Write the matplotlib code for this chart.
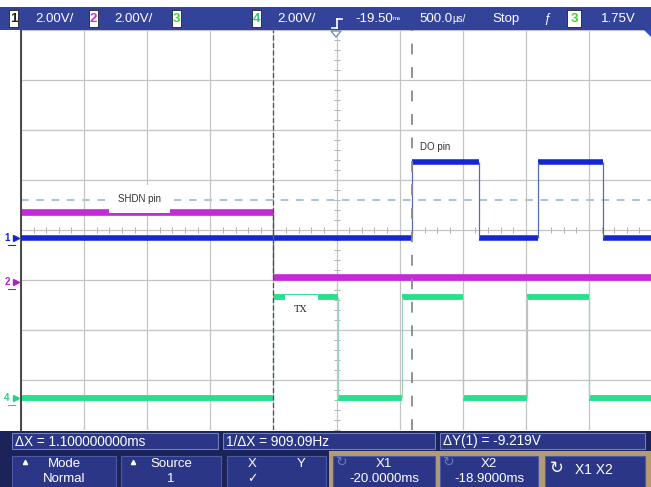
import numpy as np
import matplotlib
matplotlib.use("Agg")
import matplotlib.pyplot as plt
from matplotlib.patches import Rectangle, Polygon

plt.rcParams['font.family'] = ['Liberation Sans', 'DejaVu Sans']

# scope settings
volts_per_div = 2.0
time_left, time_right = -22.0, -17.0      # ms, 500 us/div
cursor_x1, cursor_x2 = -20.0, -18.9       # ms
trig_level_div = 0.6

# channel 1 (blue) - DO pin
ch1_edges = [-22.0, -18.90, -18.37, -17.90, -17.39, -17.0]
ch1_volts = [0.0, 3.04, 0.0, 3.04, 0.0]
ch1_offset = -0.16

# channel 2 (magenta) - SHDN pin
ch2_edges = [-22.0, -20.0, -17.0]
ch2_volts = [2.8, 0.2]
ch2_offset = -1.04

# channel 4 (green) - TX
ch4_edges = [-22.0, -20.0, -19.49, -18.98, -18.50, -17.99, -17.50, -17.0]
ch4_volts = [0.0, 4.04, 0.0, 4.04, 0.0, 4.04, 0.0]
ch4_offset = -3.36

W, H = 651, 487
fig = plt.figure(figsize=(W / 100, H / 100), dpi=100)
fig.patch.set_facecolor('white')

# graticule area in pixels: x 21..652, y 30..430
ax = fig.add_axes([21 / W, (H - 430) / H, 631 / W, 400 / H])
ax.set_xlim(time_left, time_right)
ax.set_ylim(-4, 4)
ax.set_xticks(np.arange(time_left, time_right + 0.01, 0.5))
ax.set_yticks(np.arange(-4, 5, 1))
ax.grid(True, color='#c4c4c4', lw=0.9, zorder=0)
ax.tick_params(length=0, labelbottom=False, labelleft=False)
for s in ['top', 'right', 'bottom']:
    ax.spines[s].set_visible(False)
ax.spines['left'].set_color('#3a3a3a')
ax.spines['left'].set_linewidth(1.3)

# minor ticks on centre lines
mx = np.arange(time_left, time_right, 0.1)
my = np.arange(-4, 4, 0.2)
ax.plot(mx, np.zeros_like(mx), ls='none', marker='|', ms=4, mew=0.7, color='#b0b0b0', zorder=1)
ax.plot(np.full_like(my, -19.5), my, ls='none', marker='_', ms=4, mew=0.7, color='#b0b0b0', zorder=1)

# trigger level
ax.axhline(trig_level_div, color='#8fb4c8', lw=1.1, dashes=(5, 5), zorder=1)


def draw_channel(edges, volts, offset, color, lw, edge_color):
    y = offset + np.array(volts) / volts_per_div
    ax.hlines(y, edges[:-1], edges[1:], colors=color, lw=lw, zorder=2)
    ax.vlines(edges[1:-1], y[:-1], y[1:], colors=edge_color, lw=0.9, zorder=2)


draw_channel(ch1_edges, ch1_volts, ch1_offset, '#1428d2', 4.0, '#5a68b8')
draw_channel(ch2_edges, ch2_volts, ch2_offset, '#c42ad8', 4.8, '#666666')
draw_channel(ch4_edges, ch4_volts, ch4_offset, '#26e08c', 4.2, '#9cd2bc')

# cursors
ax.axvline(cursor_x1, color='#505050', lw=0.9, dashes=(4, 2), zorder=3)
ax.axvline(cursor_x2, color='#8a8a8a', lw=1.3, dashes=(6, 7), zorder=3)

# trace labels
ax.text(-21.06, 0.62, 'SHDN pin', fontsize=7, color='#333333', ha='center', va='center',
        bbox=dict(boxstyle='square,pad=0.95', fc='white', ec='none'), zorder=4)
ax.text(-19.78, -1.58, 'TX', fontsize=7, color='#333333', ha='center', va='center',
        family='DejaVu Serif',
        bbox=dict(boxstyle='square,pad=1.0', fc='white', ec='none'), zorder=4)
ax.text(-18.72, 1.66, 'DO pin', fontsize=7, color='#333333', ha='center', va='center', zorder=4)

# channel ground markers
ytr = ax.get_yaxis_transform()
for num, off, col in [('1', ch1_offset, '#1428d2'), ('2', ch2_offset, '#b020c8'), ('4', ch4_offset, '#26d08c')]:
    ax.text(-0.022, off, num, transform=ytr, fontsize=7, fontweight='bold', color=col,
            ha='center', va='center', clip_on=False)
    ax.plot([-0.008], [off], transform=ytr, marker='>', ms=4, color=col, clip_on=False)
    ax.plot([-0.02, -0.01], [off - 0.14, off - 0.14], transform=ytr, color=col, lw=0.8, clip_on=False)

# ---------- overlay in pixel coords: top bar and soft-key bar ----------
ov = fig.add_axes([0, 0, 1, 1], zorder=10)
ov.set_xlim(0, W)
ov.set_ylim(H, 0)
ov.axis('off')
ov.patch.set_alpha(0)

navy = '#34439a'
ov.add_patch(Rectangle((0, 7), W, 23, fc=navy, ec='none'))
txt = dict(color='white', fontsize=9.5, va='center')


def chbox(x, label, col, w=9):
    ov.add_patch(Rectangle((x, 10), w, 17, fc='white', ec='#222222', lw=0.6))
    ov.text(x + w / 2, 19, label, color=col, fontsize=9.5, ha='center', va='center', fontweight='bold')


chbox(9, '1', '#222222')
ov.text(35, 19, '2.00V/', **txt)
chbox(89, '2', '#d030c0')
ov.text(114, 19, '2.00V/', **txt)
chbox(172, '3', '#40d040')
chbox(252, '4', '#30c080')
ov.text(277, 19, '2.00V/', **txt)

# trigger position glyph
ov.plot([337, 337], [19, 28], color='white', lw=1.2)
ov.plot([337, 342], [19, 19], color='white', lw=1.2)
ov.plot([332, 337], [28, 28], color='white', lw=1.2)
ov.text(355, 19, '-19.50', **txt)
ov.text(393, 19, 'ms', color='white', fontsize=4.5, va='center')
ov.text(419, 19, '500.0', **txt)
ov.text(452, 19, 'µs/', color='white', fontsize=7, va='center')
ov.text(492, 19, 'Stop', **txt)
ov.text(547, 19, 'ƒ', color='white', fontsize=9, va='center', ha='center', style='italic')
chbox(567, '3', '#40d040', w=14)
ov.text(601, 19, '1.75V', **txt)

# trigger marker at top of graticule and corner marker
ov.add_patch(Polygon([[331, 31], [341, 31], [336, 37]], closed=True, fc='white', ec='#7890b8', lw=1))
ov.add_patch(Polygon([[644, 30], [651, 30], [651, 37]], closed=True, fc='#2a50d0', ec='none'))

# bottom area
ov.add_patch(Rectangle((0, 431), W, H - 431, fc='#1c2358', ec='none'))
ov.add_patch(Rectangle((329, 451), W - 329, H - 451, fc='#b39b74', ec='none'))
box_face = '#2b3786'
box_edge = '#6d7cc4'
for x0, x1, s in [(12, 218, 'ΔX = 1.100000000ms'), (223, 435, '1/ΔX = 909.09Hz'),
                  (440, 645, 'ΔY(1) = -9.219V')]:
    ov.add_patch(Rectangle((x0, 433), x1 - x0, 16, fc=box_face, ec=box_edge, lw=0.8))
    ov.text(x0 + 3, 441.5, s, color='white', fontsize=9.8, va='center')

btn_top = 456
buttons = [(12, 116, 'Mode', 'Normal'), (121, 221, 'Source', '1'), (227, 326, None, None),
           (333, 435, 'X1', '-20.0000ms'), (440, 538, 'X2', '-18.9000ms'), (545, 645, None, None)]
for x0, x1, top, bottom in buttons:
    ov.add_patch(Rectangle((x0, btn_top), x1 - x0, H - btn_top + 2, fc=box_face, ec='#4b5aa8', lw=0.8))
    cx = (x0 + x1) / 2
    if top is not None:
        ov.text(cx, 464, top, color='white', fontsize=9.5, ha='center', va='center')
        ov.text(cx, 479, bottom, color='white', fontsize=9.5, ha='center', va='center')

ov.plot([25], [462], marker='^', ms=3, color='white')
ov.plot([133], [462], marker='^', ms=3, color='white')
ov.text(252, 464, 'X', color='white', fontsize=9.5, ha='center', va='center')
ov.text(301, 464, 'Y', color='white', fontsize=9.5, ha='center', va='center')
ov.text(252, 479, '✓', color='white', fontsize=9, ha='center', va='center', family='DejaVu Sans')
ov.text(342, 462, '↻', color='#6878b8', fontsize=10, ha='center', va='center', family='DejaVu Sans')
ov.text(449, 462, '↻', color='#6878b8', fontsize=10, ha='center', va='center', family='DejaVu Sans')
ov.text(557, 468, '↻', color='white', fontsize=12, ha='center', va='center', family='DejaVu Sans')
ov.text(594, 470, 'X1 X2', color='white', fontsize=10, ha='center', va='center')

fig.savefig('out.png', dpi=100)
